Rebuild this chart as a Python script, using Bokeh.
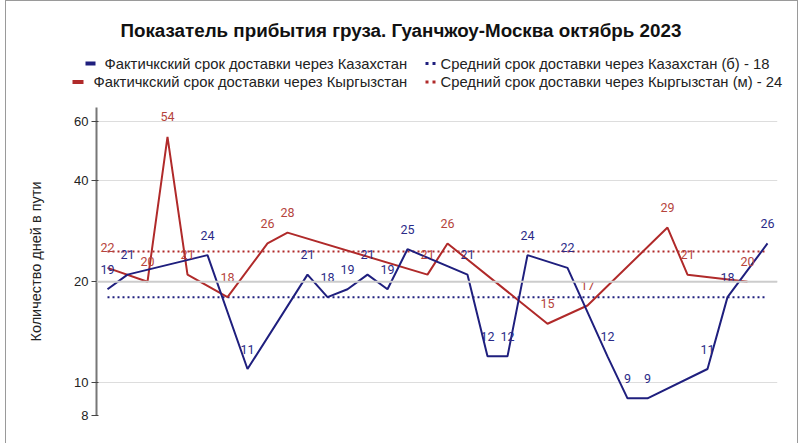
from bokeh.plotting import figure
from bokeh.models import Range1d, FixedTicker, NumeralTickFormatter, ColumnDataSource, Span
from bokeh.core.properties import value
from bokeh.embed import file_html
from bokeh.resources import INLINE

# ---------------- data ----------------
title_text = "Показатель прибытия груза. Гуанчжоу-Москва октябрь  2023"
legend_kz_fact = "Фактичкский срок доставки через Казахстан"
legend_kz_avg = "Средний срок доставки через Казахстан (б) - 18"
legend_kg_fact = "Фактичкский срок доставки через Кыргызстан"
legend_kg_avg = "Средний срок доставки через Кыргызстан (м) - 24"
y_title = "Количество дней в пути"
y_ticks = [8, 10, 20, 40, 60]

# shipment slot index (0..33) and days in transit
kz_slot = [0, 1, 5, 7, 10, 11, 12, 13, 14, 15, 18, 19, 20, 21, 23, 25, 26, 27, 30, 31, 33]
kz_days = [19, 21, 24, 11, 21, 18, 19, 21, 19, 25, 21, 12, 12, 24, 22, 12, 9, 9, 11, 18, 26]
kg_slot = [0, 2, 3, 4, 6, 8, 9, 16, 17, 22, 24, 28, 29, 32]
kg_days = [22, 20, 54, 21, 18, 26, 28, 21, 26, 15, 17, 29, 21, 20]
kz_avg = 18
kg_avg = 24.6
avg_span = [0, 33]

# ---------------- styles ----------------
BLUE = "#1f1f7e"
RED = "#b02a2a"
BLUE_LBL = "#2b2b88"
RED_LBL = "#b5443c"
FONT = "Liberation Sans"
W = 793
HDR_H = 99
MAIN_H = 344
BORDER = "1px solid #9a9a9a"

# ---------------- header (title + legend) ----------------
hdr = figure(width=W, height=HDR_H, x_range=Range1d(0, W), y_range=Range1d(HDR_H, 0),
             toolbar_location=None, output_backend="svg", min_border=0,
             x_axis_location=None, y_axis_location=None)
hdr.grid.visible = False
hdr.outline_line_color = None

hdr.text(x=[397], y=[29], text=[title_text], text_font=value(FONT), text_font_style="bold",
         text_font_size="18.8px", text_align="center", text_baseline="middle", text_color="#111111")

hdr.segment(x0=[79], x1=[89], y0=[62], y1=[62], line_color=BLUE, line_width=4)
hdr.segment(x0=[66], x1=[77], y0=[80.5], y1=[80.5], line_color=RED, line_width=4)
hdr.scatter(x=[420.5, 427.5], y=[62, 62], marker="square", size=3, fill_color=BLUE, line_color=None)
hdr.scatter(x=[420.5, 427.5], y=[80.5, 80.5], marker="square", size=3, fill_color=RED, line_color=None)
hdr.text(x=[98, 87], y=[62, 80.5], text=[legend_kz_fact, legend_kg_fact], text_font=value(FONT),
         text_font_size="14.8px", text_align="left", text_baseline="middle", text_color="#222222")
hdr.text(x=[434, 434], y=[62, 80.5], text=[legend_kz_avg, legend_kg_avg], text_font=value(FONT),
         text_font_size="14.8px", text_align="left", text_baseline="middle", text_color="#222222")

# ---------------- main chart ----------------
p = figure(width=W, height=MAIN_H, x_range=Range1d(-0.55, 33.5), y_range=Range1d(8, 66),
           y_axis_type="log", toolbar_location=None, output_backend="svg",
           min_border_left=90, min_border_right=22, min_border_top=8, min_border_bottom=28,
           x_axis_location=None)
p.outline_line_color = None
p.xgrid.visible = False

ax = p.yaxis[0]
ax.ticker = FixedTicker(ticks=y_ticks, minor_ticks=[])
ax.formatter = NumeralTickFormatter(format="0")
ax.axis_line_color = "#777777"
ax.axis_line_width = 2
ax.major_tick_line_color = "#444444"
ax.major_tick_out = 5
ax.major_tick_in = 2
ax.minor_tick_line_color = None
ax.major_label_text_font = FONT
ax.major_label_text_font_size = "13px"
ax.major_label_text_color = "#222222"
ax.major_label_standoff = 3
ax.axis_label = y_title
ax.axis_label_text_font = FONT
ax.axis_label_text_font_size = "14.5px"
ax.axis_label_text_font_style = "normal"
ax.axis_label_text_color = "#222222"
ax.axis_label_standoff = 27

p.ygrid.grid_line_color = "#dddddd"
p.ygrid.grid_line_width = 1
p.add_layout(Span(location=20, dimension="width", line_color="#cccccc", line_width=2))

# average lines
p.line(x=avg_span, y=[kz_avg, kz_avg], line_color=BLUE, line_width=2, line_dash="2 3")
p.line(x=avg_span, y=[kg_avg, kg_avg], line_color=RED, line_width=2, line_dash="2 3")

kz_src = ColumnDataSource(dict(x=kz_slot, y=kz_days, t=[str(v) for v in kz_days]))
kg_src = ColumnDataSource(dict(x=kg_slot, y=kg_days, t=[str(v) for v in kg_days]))

p.line("x", "y", source=kg_src, line_color=RED, line_width=2)
p.line("x", "y", source=kz_src, line_color=BLUE, line_width=2)

for src, col in ((kg_src, RED_LBL), (kz_src, BLUE_LBL)):
    p.text("x", "y", text="t", source=src, text_font=value("Roboto"), text_font_size="12.5px",
           text_color=col, text_align="center", text_baseline="middle", y_offset=-20)

hdr.styles = {"margin-left": "5px", "border-top": BORDER, "border-left": BORDER,
              "border-right": BORDER}
p.styles = {"margin-left": "5px", "border-left": BORDER, "border-right": BORDER}

with open("out.html", "w") as f:
    f.write(file_html([hdr, p], INLINE))
